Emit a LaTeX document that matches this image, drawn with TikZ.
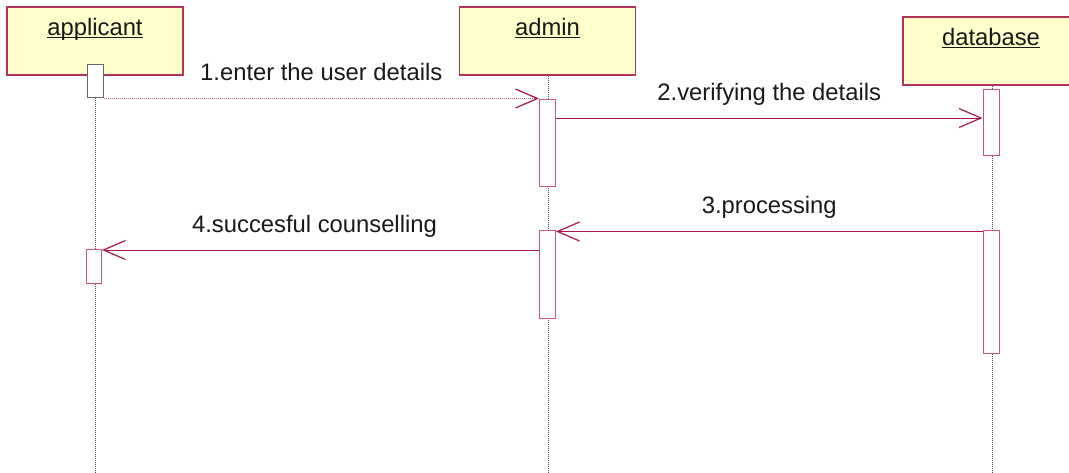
\documentclass[tikz,border=0pt]{standalone}
\usepackage{fontspec}
\setmainfont{Liberation Sans}
\definecolor{msgred}{RGB}{168, 20, 76}
\definecolor{dotred}{RGB}{205, 110, 145}
\definecolor{boxred}{RGB}{178, 50, 88}
\definecolor{actpink}{RGB}{205, 85, 125}
\definecolor{objyellow}{RGB}{255, 255, 204}
\usepackage{tikz}
\usetikzlibrary{arrows.meta, positioning}
\tikzstyle{object} = [draw=boxred, fill=objyellow, minimum width=88pt, minimum height=34pt,
                      inner sep=0pt, line width=0.55pt]
\tikzstyle{objname} = [font=\fontsize{11.9}{14}\selectfont, text=black!90, inner sep=0pt, anchor=base]
\tikzstyle{activation} = [draw=actpink, fill=white, minimum width=8pt, inner sep=0pt, line width=0.5pt]
\tikzstyle{lifeline} = [draw=black!70, dash pattern=on 0.5pt off 0.5pt, line width=0.5pt]
\tikzstyle{message} = [draw=msgred, line width=0.5pt,
                       -{Straight Barb[length=11pt, width=9.5pt, color=msgred, line width=0.6pt]}]
\tikzstyle{msglabel} = [font=\fontsize{11.9}{14}\selectfont, text=black!90, inner sep=0pt,
                        anchor=base, yshift=9pt]

\begin{document}
\begin{tikzpicture}[x=0.5pt, y=-0.5pt]
                    \useasboundingbox (0,0) rectangle (1069,472);
                    % objects
                    \node[object] (applicant) at (95,41) {};
                    \node[object] (admin) at (547.5,41) {};
                    \node[object] (database) at (991,51) {};
                    \node[objname] (applicantname) at (95,35) {\underline{\smash{applicant}}};
                    \node[objname] (adminname) at (547.5,35) {\underline{\smash{admin}}};
                    \node[objname] (databasename) at (991,45) {\underline{\smash{database}}};
                    % lifelines
                    \coordinate (applicantend) at (95.5,472);
                    \coordinate (adminend) at (548,472);
                    \coordinate (databaseend) at (992,472);
                    \draw[lifeline] (applicant.south -| applicantend) -- (applicantend);
                    \draw[lifeline] (admin.south -| adminend) -- (adminend);
                    \draw[lifeline] (database.south -| databaseend) -- (databaseend);
                    % activations
                    \node[activation, draw=black!60, minimum height=16.5pt] (appact1) at (95,80.5) {};
                    \node[activation, minimum height=17pt, minimum width=7.5pt] (appact2) at (94,266) {};
                    \node[activation, minimum height=43.5pt] (adminact1) at (547.5,142.5) {};
                    \node[activation, minimum height=44pt] (adminact2) at (547.5,274) {};
                    \node[activation, minimum height=33pt] (dbact1) at (991,122) {};
                    \node[activation, minimum height=61.5pt] (dbact2) at (991,291.5) {};
                    % messages
                    \draw[message, draw=dotred, dash pattern=on 0.5pt off 0.5pt]
                        (appact1.east |- adminact1.north) -- node[msglabel] {1.enter the user details} (adminact1.north west);
                    \draw[message] (adminact1.east |- 0,118) -- node[msglabel] {2.verifying the details} (dbact1.west |- 0,118);
                    \draw[message] (dbact2.west |- 0,231.5) -- node[msglabel] {3.processing} (adminact2.east |- 0,231.5);
                    \draw[message] (adminact2.west |- 0,250) -- node[msglabel, xshift=-3pt] {4.succesful counselling} (appact2.east |- 0,250);
                \end{tikzpicture}
\end{document}
